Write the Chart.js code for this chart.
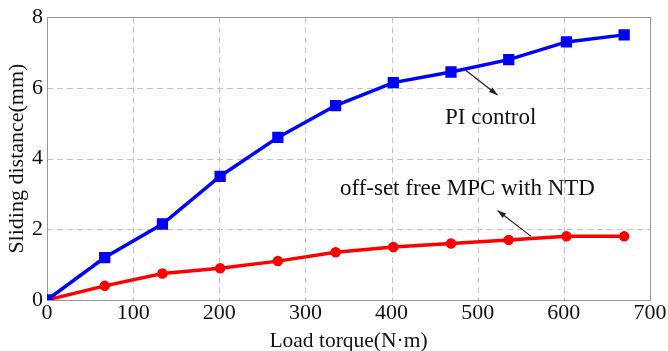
<!DOCTYPE html>
<html>
<head>
<meta charset="utf-8">
<script src="https://cdn.jsdelivr.net/npm/chart.js@4"></script>
<style>
  html, body { margin: 0; padding: 0; background: #fff; }
  #wrap { width: 668px; height: 351px; }
</style>
</head>
<body>
<div id="wrap"><canvas id="chart"></canvas></div>
<script>
// data
const torque = [0, 67, 134, 201, 268, 335, 402, 469, 536, 603, 670];
const piControl = [0, 1.2, 2.15, 3.5, 4.6, 5.5, 6.15, 6.45, 6.8, 7.3, 7.5];
const mpcNtd = [0, 0.4, 0.75, 0.9, 1.1, 1.35, 1.5, 1.6, 1.7, 1.8, 1.8];
const xTicks = [0, 100, 200, 300, 400, 500, 600, 700];
const yTicks = [0, 2, 4, 6, 8];

const serif = '"Liberation Serif", "DejaVu Serif", serif';

// text labels with arrows, placed in data coordinates
const notes = [
  { text: 'PI control', x: 462, y: 5.14, from: [486, 6.5], to: [523, 5.8] },
  { text: 'off-set free MPC with NTD', x: 340, y: 3.14, from: [562, 1.8], to: [523, 2.53] }
];

// dashed grid + grey frame, drawn over the scale range
const gridPlugin = {
  id: 'dashGrid',
  beforeDatasetsDraw(chart) {
    const ctx = chart.ctx, xs = chart.scales.x, ys = chart.scales.y;
    const l = xs.getPixelForValue(xs.min), r = xs.getPixelForValue(xs.max);
    const t = ys.getPixelForValue(ys.max), b = ys.getPixelForValue(ys.min);
    ctx.save();
    ctx.strokeStyle = '#c4c4c4';
    ctx.lineWidth = 1;
    ctx.setLineDash([6, 4]);
    xTicks.slice(1, -1).forEach(v => {
      const p = Math.round(xs.getPixelForValue(v)) + 0.5;
      ctx.beginPath(); ctx.moveTo(p, t); ctx.lineTo(p, b); ctx.stroke();
    });
    yTicks.slice(1, -1).forEach(v => {
      const p = Math.round(ys.getPixelForValue(v)) + 0.5;
      ctx.beginPath(); ctx.moveTo(l, p); ctx.lineTo(r, p); ctx.stroke();
    });
    ctx.setLineDash([]);
    ctx.strokeStyle = '#999';
    ctx.strokeRect(Math.round(l) + 0.5, Math.round(t) + 0.5, Math.round(r - l), Math.round(b - t));
    ctx.restore();
  }
};

const notesPlugin = {
  id: 'notes',
  afterDatasetsDraw(chart) {
    const ctx = chart.ctx, xs = chart.scales.x, ys = chart.scales.y;
    ctx.save();
    ctx.font = '23px ' + serif;
    ctx.textBaseline = 'middle';
    notes.forEach(n => {
      ctx.fillStyle = '#111';
      ctx.fillText(n.text, xs.getPixelForValue(n.x), ys.getPixelForValue(n.y));
      const x1 = xs.getPixelForValue(n.from[0]), y1 = ys.getPixelForValue(n.from[1]);
      const x2 = xs.getPixelForValue(n.to[0]), y2 = ys.getPixelForValue(n.to[1]);
      ctx.strokeStyle = '#222';
      ctx.lineWidth = 1.2;
      ctx.beginPath();
      ctx.moveTo(x1, y1);
      ctx.lineTo(x2, y2);
      ctx.stroke();
      const a = Math.atan2(y2 - y1, x2 - x1);
      ctx.beginPath();
      ctx.moveTo(x2, y2);
      ctx.lineTo(x2 - 9 * Math.cos(a - 0.33), y2 - 9 * Math.sin(a - 0.33));
      ctx.lineTo(x2 - 9 * Math.cos(a + 0.33), y2 - 9 * Math.sin(a + 0.33));
      ctx.closePath();
      ctx.fillStyle = '#222';
      ctx.fill();
    });
    ctx.restore();
  }
};

new Chart(document.getElementById('chart'), {
  type: 'line',
  data: {
    datasets: [
      {
        label: 'PI control',
        data: torque.map((t, i) => ({ x: t, y: piControl[i] })),
        borderColor: '#0000ff',
        backgroundColor: '#0000ff',
        borderWidth: 3.5,
        pointStyle: 'rect',
        pointRadius: 5.5,
        tension: 0
      },
      {
        label: 'off-set free MPC with NTD',
        data: torque.map((t, i) => ({ x: t, y: mpcNtd[i] })),
        borderColor: '#ff0000',
        backgroundColor: '#ff0000',
        borderWidth: 3.5,
        pointStyle: 'circle',
        pointRadius: 3.5,
        tension: 0
      }
    ]
  },
  options: {
    responsive: true,
    maintainAspectRatio: false,
    animation: false,
    layout: { padding: { top: 14, right: 18, left: 0, bottom: 0 } },
    plugins: {
      legend: { display: false },
      tooltip: { enabled: false }
    },
    scales: {
      x: {
        type: 'linear',
        min: 0,
        max: 700,
        afterBuildTicks: s => { s.ticks = xTicks.map(v => ({ value: v })); },
        afterFit: s => { s.height = 51; },
        grid: { display: false, drawTicks: false },
        border: { display: false },
        ticks: { color: '#111', font: { family: serif, size: 22 }, padding: 0 },
        title: { display: true, text: 'Load torque(N·m)', color: '#111', font: { family: serif, size: 21.5 }, padding: { top: 0, bottom: -3 } }
      },
      y: {
        min: 0,
        max: 8,
        afterBuildTicks: s => { s.ticks = yTicks.map(v => ({ value: v })); },
        afterFit: s => { s.width = 47; },
        grid: { display: false, drawTicks: false },
        border: { display: false },
        ticks: { color: '#111', font: { family: serif, size: 22 }, padding: 4 },
        title: { display: true, text: 'Sliding distance(mm)', color: '#111', font: { family: serif, size: 22 }, padding: { top: 4, bottom: 0 } }
      }
    }
  },
  plugins: [gridPlugin, notesPlugin]
});
</script>
</body>
</html>
